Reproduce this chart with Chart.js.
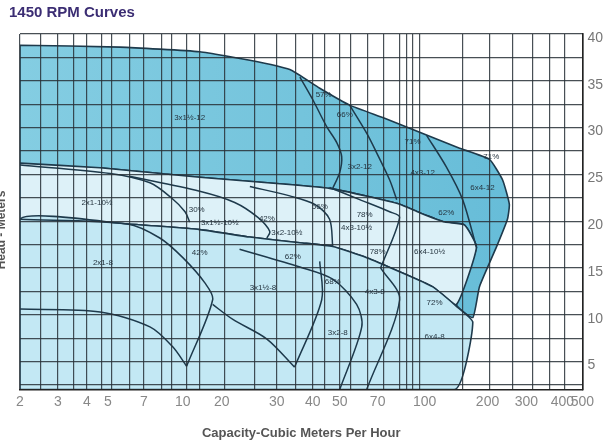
<!DOCTYPE html>
<html lang="en">
<head>
<meta charset="UTF-8">
<title>1450 RPM Curves</title>
<style>
body{margin:0;background:#fff;}
#wrap{width:610px;height:443px;}
</style>
</head>
<body>
<div id="wrap"><canvas id="pump" width="610" height="443"></canvas></div>
<script src="https://cdn.jsdelivr.net/npm/chart.js"></script>
<script>
// axis ticks (capacity m3/h, head m)
const X_LABELS=[2,3,4,5,7,10,20,30,40,50,70,100,200,300,400,500];
const X_GRID=[2,2.5,3,3.5,4,4.7,5.2,6.1,7,8.2,9,10.7,13.5,20.4,25.5,30,35,40,44,50,55,64,73,83,87,91,96,152,204,259,314,361,409,500];
const Y_TICKS=[2.5,5,7.5,10,12.5,15,17.5,20,22.5,25,27.5,30,32.5,35,37.5,40];

// coverage envelopes, [capacity, head]
const ENV_12=[[2,38.8],[5.6,38.6],[13.5,38.1],[24.6,37.2],[33.3,36.2],[42.4,34.2],[54.6,32.4],[73.8,31.0],[96.3,29.5],[147,27.8],[204,26.6],[234,24.4],[251,21.8],
  [246,20.2],[220,17.3],[183,13.0],[170,9.7],[142,11.1],[177,17.2],[155,19.6],
  [125,19.9],[96.3,20.9],[82.7,21.8],[65.2,22.6],[46,23.5],[30.7,24.0],[13.5,24.7],[4.6,25.7],[2,26.2],[2,38.8]];
const ENV_10=[[2,26.2],[4.6,25.7],[13.5,24.7],[30.7,24.0],[46,23.5],[65.2,22.6],[82.7,21.8],[96.3,20.9],[125,19.9],[155,19.6],[177,17.2],[142,11.1],
  [109,13.0],[82.7,14.6],[63.5,16.1],[47.2,17.3],[36.1,17.7],[24.6,18.3],[13.5,19.1],[6.0,19.7],[2,20.2],[2,26.2]];
const ENV_8=[[2,2],[2,20.2],[6.0,19.7],[13.5,19.1],[24.6,18.3],[36.1,17.7],[47.2,17.3],[63.5,16.1],[82.7,14.6],[109,13.0],[142,10.9],[170,9.2],[139,2],[2,2]];

// individual curves
const CUT_3x15_12=[[36.1,35.4],[40,33.0],[44.9,30.1],[48.8,28.4],[50.9,26.9],[50,25.2],[47.2,23.5]];
const CUT_3x2_12=[[54.6,32.4],[63.5,29.4],[69.4,27.3],[76.7,24.4],[80.9,22.3]];
const CUT_4x3_12=[[102,29.2],[127,25.8],[152,22.3],[177,17.2]];
const HEAD_2x1_10=[[2,26.0],[5.1,25.1],[7.4,24.1],[9.0,22.5],[10.4,21.0],[11.3,19.9]];
const HEAD_3x15_10=[[6.1,24.8],[13.5,23.2],[22.0,22.0],[26.1,20.4],[28.5,18.9],[27.9,18.2]];
const HEAD_3x2_10=[[24.6,23.7],[33.3,22.7],[40.7,21.8],[46.0,20.2],[47.2,17.3]];
const HEAD_4x3_10=[[46.0,23.6],[59.7,22.3],[76.7,21.0],[82.7,20.4],[71.6,15.0]];
const HEAD_2x1_8=[[2,20.2],[6.0,19.7],[8.1,18.2],[10,16.1],[14.8,13.4],[17.0,11.6],[10.7,4.5]];
const MIN_2x1_8=[[2,10.6],[4.6,10.3],[7.4,8.7],[9.1,6.6],[10.7,4.5]];
const MIN_3x15_8=[[17.0,11.1],[21.7,9.5],[27.9,7.4],[34.6,4.4]];
const CUT_3x15_8=[[42.4,15.7],[43.1,11.6],[34.6,4.4]];
const HEAD_3x2_8=[[22.8,17.0],[36.1,15.1],[47.2,13.8],[58.1,11.1],[60.8,8.7],[50,2]];
const CUT_4x3_8=[[71.6,15.0],[82.7,11.6],[63.5,2]];

// text on the curves: [text, capacity, head]
const CURVE_TEXT=[
  ['3x1½-12',11.3,31.0],['57%',43.8,33.5],['66%',52.3,31.4],['71%',91.3,28.5],['71%',208,26.9],
  ['3x2-12',59.7,25.8],['4x3-12',98.5,25.2],['6x4-12',189,23.6],
  ['2x1-10½',4.45,22.0],['30%',12.8,21.2],['3x1½-10½',19.3,19.8],['42%',27.9,20.2],['3x2-10½',32.5,18.8],
  ['56%',42.4,21.5],['78%',62.4,20.7],['4x3-10½',58.1,19.3],['62%',127,20.9],['78%',70,16.7],['6x4-10½',105.6,16.7],
  ['62%',34.1,16.2],['42%',13.5,16.6],['2x1-8',4.74,15.6],['3x1½-8',27.1,12.9],['68%',47.2,13.5],
  ['4x3-8',68.2,12.5],['72%',111.6,11.3],['3x2-8',49.2,8.1],['6x4-8',111.6,7.6]
];

// the printed capacity axis is not a clean log scale, so it is warped between the labelled values
const ANCH=[[2,0],[3,.0675],[4,.119],[5,.1563],[7,.2202],[10,.2895],[20,.3588],[30,.4565],[40,.5204],[50,.5684],[70,.6359],[100,.7194],[200,.8313],[300,.9005],[400,.9645],[500,1]];
function warp(v){
  if(v<=ANCH[0][0]) return 0;
  for(let i=1;i<ANCH.length;i++){
    const [v0,d0]=ANCH[i-1],[v1,d1]=ANCH[i];
    if(v<=v1) return d0+(d1-d0)*Math.log(v/v0)/Math.log(v1/v0);
  }
  return 1;
}
function unwarp(d){
  for(let i=1;i<ANCH.length;i++){
    const [v0,d0]=ANCH[i-1],[v1,d1]=ANCH[i];
    if(d<=d1) return v0*Math.pow(v1/v0,(d-d0)/(d1-d0));
  }
  return ANCH[ANCH.length-1][0];
}
class WarpScale extends Chart.LinearScale{
  static id='warp';
  static defaults=Chart.LinearScale.defaults;
  buildTicks(){
    this.start=this.min; this.end=this.max;
    const all=[...new Set([...X_GRID,...X_LABELS])].sort((a,b)=>a-b);
    return all.map(v=>({value:v}));
  }
  getPixelForValue(v){return this.getPixelForDecimal(warp(v));}
  getValueForPixel(p){return unwarp(this.getDecimalForPixel(p));}
}
Chart.register(WarpScale);

// scanned shading of the 12" area gets a little deeper toward the right
function deepBlue(c){
  const a=c.chart.chartArea;
  if(!a) return '#7cc9df';
  const g=c.chart.ctx.createLinearGradient(a.left,0,a.right,0);
  g.addColorStop(0,'#84cde2');
  g.addColorStop(0.5,'#74c4dc');
  g.addColorStop(1,'#62bad7');
  return g;
}

const pts=a=>a.map(([x,y])=>({x,y}));
function area(a,color){
  return {data:pts(a),fill:'shape',backgroundColor:color,borderColor:'#1e3a4c',borderWidth:1.6,pointRadius:0,tension:0.15,order:10};
}
function curve(a){
  return {data:pts(a),fill:false,borderColor:'#1e3a4c',borderWidth:1.5,pointRadius:0,tension:0.3,order:1};
}

const textPlugin={
  id:'curveText',
  afterDraw(chart){
    const {ctx,scales:{x,y}}=chart;
    ctx.save();
    ctx.font='8px Arial';
    ctx.fillStyle='#263540';
    ctx.textAlign='center';
    ctx.textBaseline='middle';
    CURVE_TEXT.forEach(([t,q,h])=>ctx.fillText(t,x.getPixelForValue(q),y.getPixelForValue(h)));
    ctx.font='bold 15px Arial';
    ctx.fillStyle='#3b2d73';
    ctx.textAlign='left';
    ctx.fillText('1450 RPM Curves',9,13);
    ctx.translate(2,230);
    ctx.rotate(-Math.PI/2);
    ctx.font='bold 12px Arial';
    ctx.fillStyle='#555';
    ctx.textAlign='center';
    ctx.fillText('Head - Meters',0,0);
    ctx.restore();
  }
};

new Chart(document.getElementById('pump'),{
  type:'line',
  data:{datasets:[
    area(ENV_8,'#c3e8f4'),
    area(ENV_10,'#ddf1f8'),
    area(ENV_12,deepBlue),
    curve(CUT_3x15_12),curve(CUT_3x2_12),curve(CUT_4x3_12),
    curve(HEAD_2x1_10),curve(HEAD_3x15_10),curve(HEAD_3x2_10),curve(HEAD_4x3_10),
    curve(HEAD_2x1_8),curve(MIN_2x1_8),curve(MIN_3x15_8),curve(CUT_3x15_8),curve(HEAD_3x2_8),curve(CUT_4x3_8)
  ]},
  options:{
    responsive:false,
    animation:false,
    events:[],
    layout:{padding:{left:20,top:34,right:2,bottom:2}},
    plugins:{legend:{display:false},tooltip:{enabled:false}},
    scales:{
      x:{
        type:'warp',min:2,max:500,
        grid:{z:1,color:c=>X_GRID.includes(c.tick.value)?'rgba(40,48,55,0.85)':'rgba(0,0,0,0)',lineWidth:1.2,drawTicks:false},
        border:{z:1,color:'#222',width:1.6},
        ticks:{autoSkip:false,maxRotation:0,padding:4,color:'#888',font:{family:'Arial',size:14},
          callback:v=>X_LABELS.includes(v)?String(v):''},
        title:{display:true,text:'Capacity-Cubic Meters Per Hour',color:'#555',font:{family:'Arial',size:13,weight:'bold'},padding:{top:11,bottom:0}}
      },
      y:{
        type:'linear',position:'right',min:2,max:40,
        afterBuildTicks:s=>{s.ticks=Y_TICKS.map(v=>({value:v}));},
        grid:{z:1,color:'rgba(40,48,55,0.85)',lineWidth:1.2,drawTicks:false},
        border:{z:1,color:'#222',width:1.6},
        ticks:{padding:5,labelOffset:4,color:'#777',font:{family:'Arial',size:14},callback:v=>v%5===0?String(v):''}
      }
    }
  },
  plugins:[textPlugin]
});
</script>
</body>
</html>
